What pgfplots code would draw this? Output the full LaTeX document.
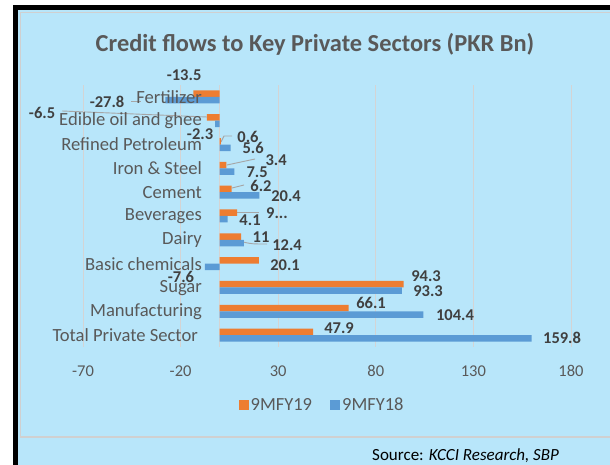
\documentclass[border=0pt]{standalone}
\usepackage{pgfplots}
\usepackage{pgfplotstable}
\pgfplotsset{compat=1.18}
\usepackage{fontspec}
\setmainfont{Carlito}
\definecolor{bgblue}{HTML}{B8E6FA}
\definecolor{borderg}{HTML}{D0D0D0}
\definecolor{gridg}{HTML}{D4D4D4}
\definecolor{orng}{HTML}{ED7D31}
\definecolor{blu}{HTML}{5B9BD5}
\definecolor{txtg}{HTML}{595959}
\definecolor{labg}{HTML}{404040}
\definecolor{leadg}{HTML}{A6A6A6}

\pgfplotstableread{
y v lab dx dy
10 -13.5 -13.5 -9.2 18.7
9 -6.5 -6.5 -164.9 4.5
8 0.6 0.6 27.2 4.3
7 3.4 3.4 49.8 5.2
6 6.2 6.2 29.3 3.0
5 9 9... 39.8 -0.3
4 11 11 19.9 -0.5
3 20.1 20.1 26.2 -4.7
2 94.3 94.3 22.3 8.2
1 66.1 66.1 22.4 5.1
0 47.9 47.9 25.9 3.9
}\orangedata

\pgfplotstableread{
y v lab dx dy
10 -27.8 -27.8 -58.3 -1.9
9 -2.3 -2.3 -15.1 -10.1
8 5.6 5.6 22.5 -0.3
7 7.5 7.5 22.8 -0.4
6 20.4 20.4 26.6 -0.6
5 4.1 4.1 22.4 -0.8
4 12.4 12.4 43.2 -2.0
3 -7.6 -7.6 -23.8 -10.2
2 93.3 93.3 26.3 -0.4
1 104.4 104.4 31.6 -0.5
0 159.8 159.8 30.5 0.4
}\bluedata

\pgfplotstableread{
y v lab dx dy
10 0 {Fertilizer} -17.6 0
9 0 {Edible oil and ghee} -17.6 0
8 0 {Refined Petroleum} -17.6 0
7 0 {Iron \& Steel} -17.6 0
6 0 {Cement} -17.6 0
5 0 {Beverages} -17.6 0
4 0 {Dairy} -17.6 0
3 0 {Basic chemicals} -17.6 0
2 0 {Sugar} -17.6 -1
1 0 {Manufacturing} -17.6 0
0 0 {Total Private Sector} -21.6 0
}\catdata

\begin{document}
\begin{tikzpicture}[x=1pt,y=1pt]
\useasboundingbox (0,0) rectangle (610,465);
\fill[white] (0,0) rectangle (610,465);
\fill[bgblue] (18,0) rectangle (610,455);
\fill[black] (13,0) rectangle (18,460);
\fill[black] (13,455) rectangle (610,460);
\draw[borderg, line width=1.2pt] (20.5,28) rectangle (616,452.5);
\node[font=\bfseries\fontsize{24.4}{28}\selectfont, text=txtg] at (315,421) {Credit flows to Key Private Sectors (PKR Bn)};
% leader lines (Excel-style)
\begin{scope}[leadg, line width=0.9pt]
\draw (131,364) -- (141,364);
\draw (62,354) -- (207,348);
\draw (221,323) -- (224,329) -- (232,329);
\draw (227,300) -- (255,306);
\draw (232,277) -- (244,280);
\draw (234,252.5) -- (259,252.5);
\draw (243,223) .. controls (252,221) .. (267,221);
\end{scope}
\begin{axis}[
  at={(83pt,118pt)}, anchor=south west,
  scale only axis, width=488pt, height=262pt,
  xmin=-70, xmax=180, ymin=-0.5, ymax=10.5,
  xtick={-70,-20,30,80,130,180},
  xticklabels={-70,-20,30,80,130,180},
  extra x ticks={0}, extra x tick labels={},
  extra x tick style={grid=major},
  xmajorgrids, major grid style={gridg, line width=1pt},
  ytick={0,...,10}, yticklabels={},
  xticklabel style={font=\fontsize{16.5}{18}\selectfont, text=txtg, yshift=-15pt},
  axis line style={draw=none},
  tick style={draw=none},
  xbar, bar width=6.5pt,
  legend style={at={(0.49,-0.222)}, anchor=center, draw=none, fill=none,
    legend columns=2, font=\fontsize{18.5}{20}\selectfont, text=txtg,
    /tikz/every even column/.append style={column sep=16pt}},
  legend image code/.code={\fill[#1] (0pt,-5pt) rectangle (10pt,5pt);},
  nodes near coords,
  point meta=explicit symbolic,
  visualization depends on={\thisrow{dx} \as \dx},
  visualization depends on={\thisrow{dy} \as \dy},
  every node near coord/.append style={anchor=center, xshift=\dx pt, yshift=\dy pt,
     font=\bfseries\fontsize{16.5}{18}\selectfont, text=labg, inner sep=0pt},
]
\addplot[fill=orng, draw=none, bar shift=3.25pt] table[x=v, y=y, meta=lab] {\orangedata};
\addlegendentry{9MFY19}
\addplot[fill=blu, draw=none, bar shift=-3.25pt] table[x=v, y=y, meta=lab] {\bluedata};
\addlegendentry{9MFY18}
\addplot[forget plot, draw=none, fill=none, bar shift=0pt,
  every node near coord/.append style={anchor=east, font=\mdseries\fontsize{18.6}{20}\selectfont, text=txtg}]
  table[x=v, y=y, meta=lab] {\catdata};
\end{axis}
\node[anchor=base west, inner sep=0pt, font=\fontsize{17}{19}\selectfont] at (372,4) {Source: \textit{KCCI Research, SBP}};
\end{tikzpicture}
\end{document}
